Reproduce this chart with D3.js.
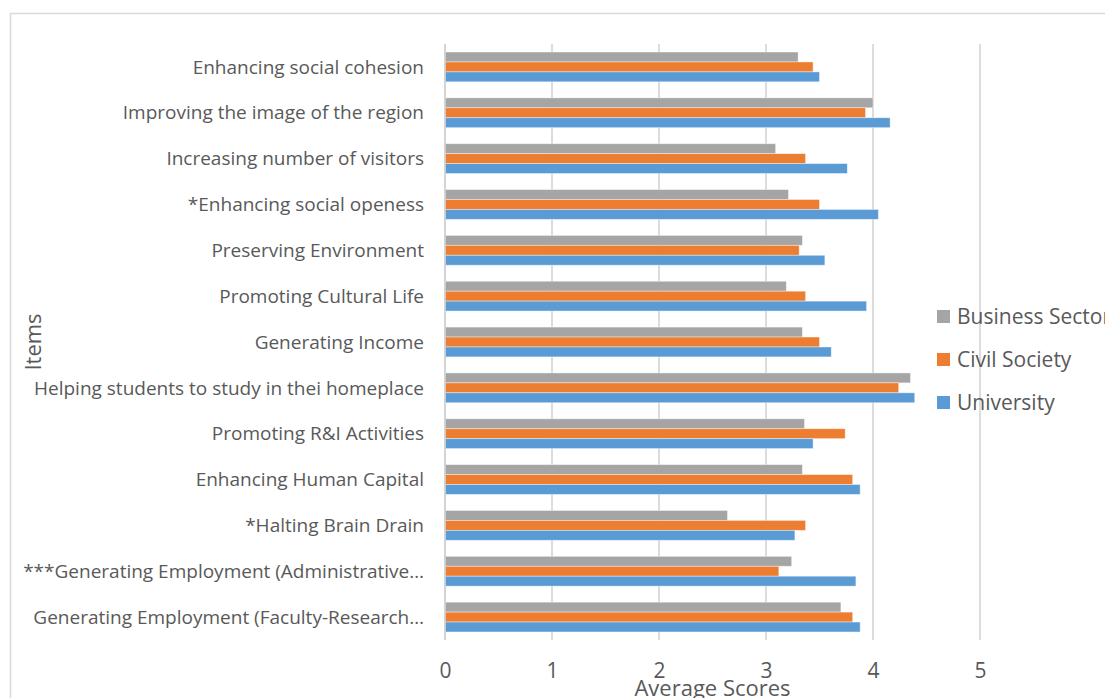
<!DOCTYPE html>
<html>
<head>
<meta charset="utf-8">
<script src="https://cdn.jsdelivr.net/npm/d3@7"></script>
<style>
  html, body { margin: 0; padding: 0; background: #ffffff; }
  svg { display: block; }
  text { font-family: "Open Sans", "Noto Sans", sans-serif; fill: #595959; }
</style>
</head>
<body>
<svg id="chart" width="1105" height="698"></svg>
<script>
// Items, listed top to bottom
const items = [
  "Enhancing social cohesion",
  "Improving the image of the region",
  "Increasing number of visitors",
  "*Enhancing social openess",
  "Preserving Environment",
  "Promoting Cultural Life",
  "Generating Income",
  "Helping students to study in thei homeplace ",
  "Promoting R&I Activities",
  "Enhancing Human Capital",
  "*Halting Brain Drain",
  "***Generating Employment (Administrative\u2026",
  "Generating Employment (Faculty-Research\u2026"
];

const seriesNames = ["Business Sector", "Civil Society", "University"];

const businessSector = [3.30, 4.00, 3.09, 3.21, 3.34, 3.19, 3.34, 4.35, 3.36, 3.34, 2.64, 3.24, 3.70];
const civilSociety   = [3.44, 3.93, 3.37, 3.50, 3.31, 3.37, 3.50, 4.24, 3.74, 3.81, 3.37, 3.12, 3.81];
const university     = [3.50, 4.16, 3.76, 4.05, 3.55, 3.94, 3.61, 4.39, 3.44, 3.88, 3.27, 3.84, 3.88];

const xTicks = [0, 1, 2, 3, 4, 5];
const colors = ["#A5A5A5", "#ED7D31", "#5B9BD5"];

const values = [businessSector, civilSociety, university];

const svg = d3.select("#chart");

// outer chart frame
svg.append("rect")
  .attr("x", 10.5).attr("y", 13.5)
  .attr("width", 1200).attr("height", 800)
  .attr("fill", "#ffffff")
  .attr("stroke", "#D9D9D9")
  .attr("stroke-width", 1.5);

const plot = { left: 445, right: 980, top: 44, bottom: 640 };

const x = d3.scaleLinear().domain([0, 5]).range([plot.left, plot.right]);
const y = d3.scaleBand().domain(items).range([plot.top, plot.bottom]).paddingInner(0.35).paddingOuter(0.175);
const ySub = d3.scaleBand().domain(seriesNames).range([0, y.bandwidth()]);

// vertical gridlines
svg.append("g")
  .selectAll("line")
  .data(xTicks.filter(t => t > 0))
  .join("line")
  .attr("x1", d => x(d)).attr("x2", d => x(d))
  .attr("y1", plot.top).attr("y2", plot.bottom)
  .attr("stroke", "#D9D9D9")
  .attr("stroke-width", 1.8);

// bars
const groups = svg.append("g")
  .selectAll("g")
  .data(items)
  .join("g")
  .attr("transform", d => `translate(0,${y(d)})`);

groups.selectAll("rect")
  .data((d, i) => seriesNames.map((s, j) => ({ s, v: values[j][i], c: colors[j] })))
  .join("rect")
  .attr("x", x(0))
  .attr("y", d => ySub(d.s))
  .attr("width", d => x(d.v) - x(0))
  .attr("height", ySub.bandwidth())
  .attr("fill", d => d.c)
  .attr("stroke", "#ffffff")
  .attr("stroke-opacity", 0.5)
  .attr("stroke-width", 0.8);

// category axis line
svg.append("line")
  .attr("x1", plot.left).attr("x2", plot.left)
  .attr("y1", plot.top).attr("y2", plot.bottom)
  .attr("stroke", "#D0D0D0")
  .attr("stroke-width", 1.8);

// category labels
const yAxis = d3.axisLeft(y).tickSize(0).tickPadding(21);
const yg = svg.append("g").attr("transform", `translate(${plot.left},0)`).call(yAxis);
yg.select(".domain").remove();
yg.selectAll("text")
  .attr("font-size", 19)
  .attr("fill", "#595959")
  .style("font-family", "'Open Sans', sans-serif")
  .attr("dy", "0.35em");

// value axis labels
const xAxis = d3.axisBottom(x).tickValues(xTicks).tickSize(0).tickPadding(23).tickFormat(d3.format("d"));
const xg = svg.append("g").attr("transform", `translate(0,${plot.bottom})`).call(xAxis);
xg.select(".domain").remove();
xg.selectAll("text")
  .attr("font-size", 21)
  .attr("fill", "#595959")
  .style("font-family", "'Open Sans', sans-serif");

// axis titles
svg.append("text")
  .attr("x", (plot.left + plot.right) / 2)
  .attr("y", 696)
  .attr("text-anchor", "middle")
  .attr("font-size", 22)
  .text("Average Scores");

svg.append("text")
  .attr("transform", `translate(41,${(plot.top + plot.bottom) / 2}) rotate(-90)`)
  .attr("text-anchor", "middle")
  .attr("font-size", 22)
  .text("Items");

// legend
const legend = svg.append("g")
  .selectAll("g")
  .data(seriesNames)
  .join("g")
  .attr("transform", (d, i) => `translate(937,${310 + i * 43})`);

legend.append("rect")
  .attr("width", 13).attr("height", 13)
  .attr("fill", (d, i) => colors[i]);

legend.append("text")
  .attr("x", 20)
  .attr("y", 14)
  .attr("font-size", 21)
  .text(d => d);
</script>
</body>
</html>
